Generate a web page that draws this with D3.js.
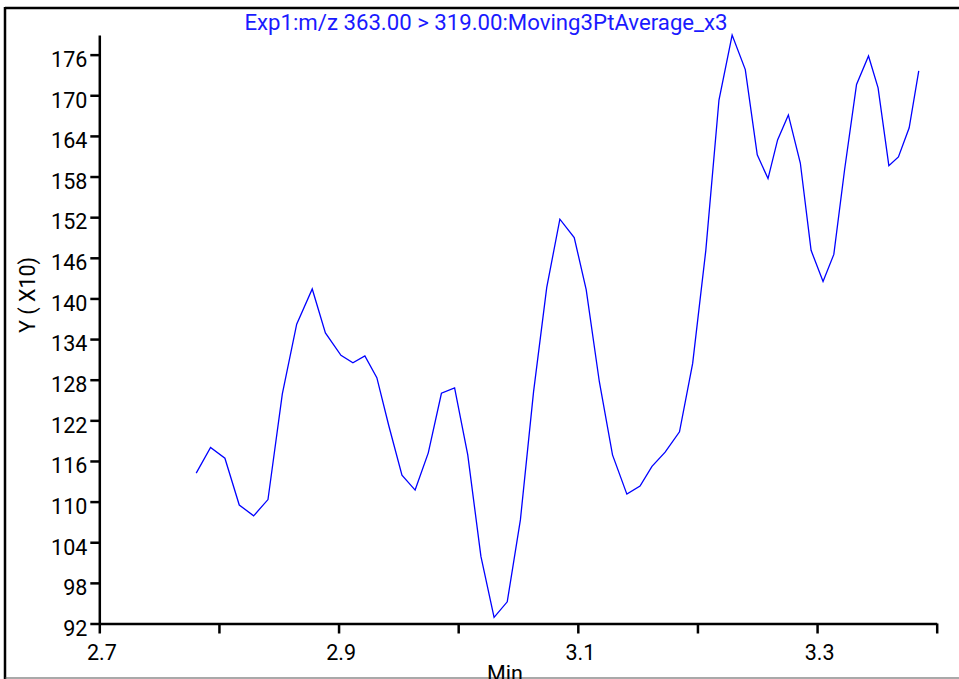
<!DOCTYPE html>
<html><head><meta charset="utf-8">
<script src="https://cdn.jsdelivr.net/npm/d3@7"></script>
<style>html,body{margin:0;padding:0;background:#fff;overflow:hidden}svg{display:block}</style>
</head><body>
<script>
const title = "Exp1:m/z 363.00 > 319.00:Moving3PtAverage_x3";
const xLabel = "Min";
const yLabel = "Y ( X10)";
const timeMin = [2.781,2.793,2.805,2.817,2.829,2.841,2.853,2.865,2.878,2.889,2.902,2.912,2.922,2.932,2.942,2.953,2.964,2.975,2.986,2.997,3.008,3.019,3.030,3.041,3.052,3.063,3.074,3.085,3.097,3.107,3.118,3.129,3.141,3.152,3.162,3.173,3.185,3.196,3.207,3.218,3.229,3.240,3.250,3.259,3.267,3.276,3.286,3.295,3.305,3.314,3.323,3.333,3.343,3.351,3.360,3.368,3.377,3.385];
const intensity = [114.2,118.0,116.4,109.5,107.9,110.3,125.9,136.2,141.4,134.9,131.6,130.5,131.5,128.3,121.2,113.9,111.7,117.2,126.0,126.8,116.9,101.9,92.9,95.2,107.3,126.2,141.6,151.7,149.0,141.3,127.7,116.9,111.1,112.3,115.2,117.3,120.3,130.4,147.1,169.3,178.9,173.8,161.2,157.7,163.4,167.1,160.0,147.1,142.5,146.5,159.0,171.6,175.8,171.1,159.6,160.9,165.2,173.6];
const xTicks = [2.7,2.8,2.9,3.0,3.1,3.2,3.3,3.4];
const xTickLabels = ["2.7","","2.9","","3.1","","3.3",""];
const yTicks = [92,98,104,110,116,122,128,134,140,146,152,158,164,170,176];
const xDomain = [2.7, 3.4];
const yMin = 92;

const W = 959, H = 679;
const font = "Roboto, 'Liberation Sans', Arial, sans-serif";
const fs = 21.5;
const svg = d3.select("body").append("svg").attr("width", W).attr("height", H);
svg.append("rect").attr("width", W).attr("height", H).attr("fill", "#fff");

// frame
svg.append("line").attr("x1",5).attr("x2",W).attr("y1",8).attr("y2",8).attr("stroke","#000").attr("stroke-width",2.5);
svg.append("line").attr("x1",5).attr("x2",5).attr("y1",7).attr("y2",H).attr("stroke","#000").attr("stroke-width",2.5);
svg.append("line").attr("x1",5).attr("x2",W).attr("y1",678).attr("y2",678).attr("stroke","#555").attr("stroke-width",1.2);

const x = d3.scaleLinear().domain(xDomain).range([99.3, 936.7]);
const y = d3.scaleLinear().domain([yMin, d3.max(intensity)]).range([623.5, 35]);

// title
svg.append("text").attr("x", 486).attr("y", 30).attr("text-anchor","middle")
  .attr("font-family", font).attr("font-size", 22.2).attr("fill", "#1a1aff").text(title);

// y axis
const yAxis = d3.axisLeft(y).tickValues(yTicks).tickFormat(d3.format("d")).tickSize(9).tickPadding(3).tickSizeOuter(0);
const gy = svg.append("g").attr("transform", `translate(${x.range()[0]},0)`).call(yAxis);
gy.select(".domain").attr("stroke","#000").attr("stroke-width",2.5);
gy.selectAll(".tick line").attr("stroke","#000").attr("stroke-width",2.5);
gy.selectAll(".tick text").attr("font-family", font).attr("font-size", fs).attr("fill","#000").attr("dy","0.55em");

// x axis
const xAxis = d3.axisBottom(x).tickValues(xTicks).tickFormat((d,i)=>xTickLabels[i]).tickSize(10).tickPadding(11).tickSizeOuter(0);
const gx = svg.append("g").attr("transform", `translate(0,${y.range()[0]})`).call(xAxis);
gx.select(".domain").attr("stroke","#000").attr("stroke-width",2.5);
gx.selectAll(".tick line").attr("stroke","#000").attr("stroke-width",2.5);
gx.selectAll(".tick text").attr("font-family", font).attr("font-size", fs).attr("fill","#000").attr("dx","2");

// axis labels
svg.append("text").attr("x", 505).attr("y", 681).attr("text-anchor","middle")
  .attr("font-family", font).attr("font-size", fs).attr("fill","#000").text(xLabel);
svg.append("text").attr("transform","translate(35,295) rotate(-90)").attr("text-anchor","middle")
  .attr("font-family", font).attr("font-size", fs).attr("fill","#000").text(yLabel);

// line
const pts = timeMin.map((t,i)=>[t, intensity[i]]);
svg.append("path").datum(pts)
  .attr("d", d3.line().x(d=>x(d[0])).y(d=>y(d[1])))
  .attr("fill","none").attr("stroke","#0000ff").attr("stroke-width",1.3);
</script>
</body></html>
